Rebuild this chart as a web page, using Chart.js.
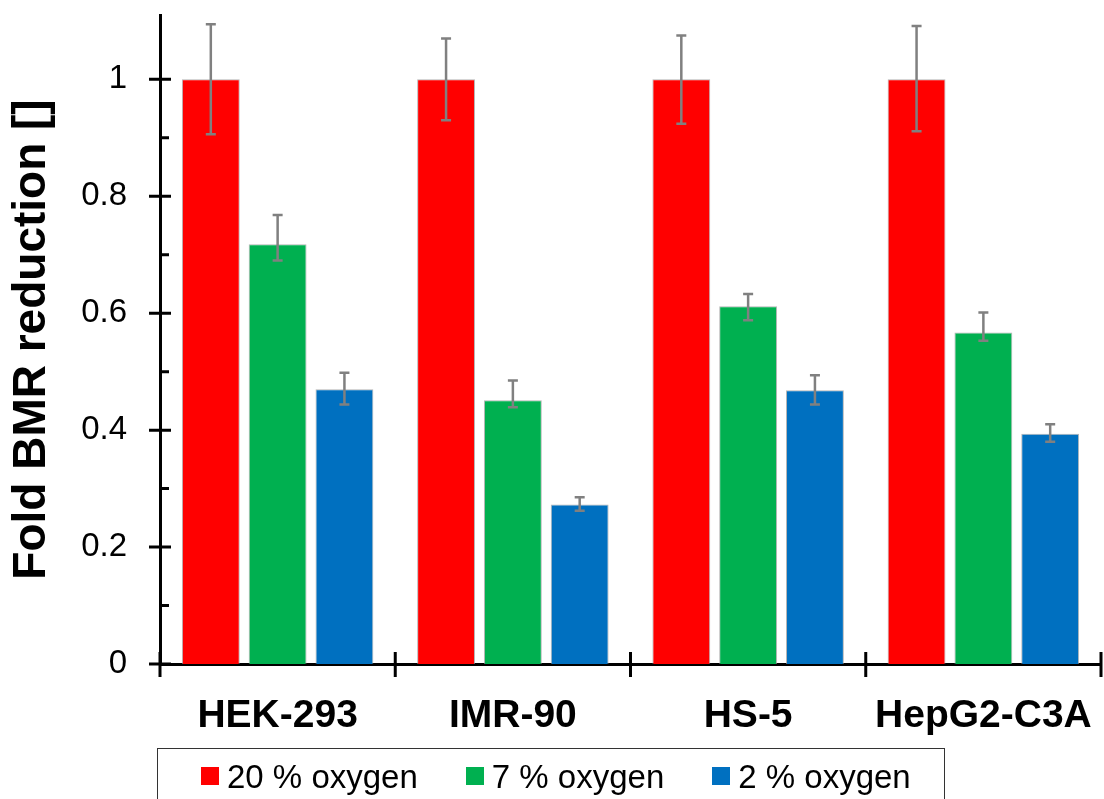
<!DOCTYPE html>
<html>
<head>
<meta charset="utf-8">
<script src="https://cdn.jsdelivr.net/npm/chart.js@4.4.0/dist/chart.umd.min.js"></script>
<style>
html, body { margin: 0; padding: 0; background: #fff; }
#wrap { position: relative; width: 1104px; height: 799px; overflow: hidden; }
#legend {
    position: absolute; left: 157px; top: 748px; width: 788px; height: 80px;
    border: 1.5px solid #333; box-sizing: border-box;
    display: flex; align-items: flex-start; padding: 10.5px 0 0 43px;
    font-family: 'Liberation Sans', Arial, sans-serif; font-size: 33px;
}
.item { display: flex; align-items: flex-start; margin-right: 48px; }
.sw { width: 18px; height: 18px; margin: 7px 8px 0 0; }
.tx { line-height: 33px; white-space: nowrap; }
</style>
</head>
<body>
<div id="wrap">
    <canvas id="chart" width="1104" height="799"></canvas>
    <div id="legend"></div>
</div>
<script>
"use strict";

var cellLines = ['HEK-293', 'IMR-90', 'HS-5', 'HepG2-C3A'];
var seriesNames = ['20 % oxygen', '7 % oxygen', '2 % oxygen'];
var seriesColors = ['#ff0000', '#00b050', '#0070c0'];

// bar heights
var oxy20 = [1.0, 1.0, 1.0, 1.0];
var oxy7 = [0.718, 0.451, 0.612, 0.567];
var oxy2 = [0.470, 0.273, 0.468, 0.394];

// error bar ends (upper / lower)
var oxy20Hi = [1.094, 1.070, 1.075, 1.091];
var oxy20Lo = [0.906, 0.930, 0.924, 0.911];
var oxy7Hi = [0.768, 0.485, 0.633, 0.601];
var oxy7Lo = [0.690, 0.439, 0.588, 0.553];
var oxy2Hi = [0.498, 0.285, 0.494, 0.410];
var oxy2Lo = [0.444, 0.262, 0.444, 0.380];

var yTickStep = 0.1;
var yMax = 1.11;

var seriesValues = [oxy20, oxy7, oxy2];
var errHi = [oxy20Hi, oxy7Hi, oxy2Hi];
var errLo = [oxy20Lo, oxy7Lo, oxy2Lo];

var errorBars = {
    id: 'errorBars',
    afterDatasetsDraw: function(chart) {
        var ctx = chart.ctx;
        var y = chart.scales.y;
        ctx.save();
        ctx.strokeStyle = '#808080';
        ctx.lineWidth = 2.5;
        chart.data.datasets.forEach(function(ds, i) {
            var meta = chart.getDatasetMeta(i);
            meta.data.forEach(function(bar, j) {
                var top = y.getPixelForValue(errHi[i][j]);
                var bottom = y.getPixelForValue(errLo[i][j]);
                ctx.beginPath();
                ctx.moveTo(bar.x, top);
                ctx.lineTo(bar.x, bottom);
                ctx.moveTo(bar.x - 5, top);
                ctx.lineTo(bar.x + 5, top);
                ctx.moveTo(bar.x - 5, bottom);
                ctx.lineTo(bar.x + 5, bottom);
                ctx.stroke();
            });
        });
        ctx.restore();
    }
};

var axisTicks = {
    id: 'axisTicks',
    afterDraw: function(chart) {
        var ctx = chart.ctx;
        var y = chart.scales.y;
        var x = chart.scales.x;
        var left = chart.chartArea.left;
        var bottom = chart.chartArea.bottom;
        ctx.save();
        ctx.strokeStyle = '#000';
        ctx.lineWidth = 3;
        ctx.beginPath();
        y.ticks.forEach(function(t) {
            var py = y.getPixelForValue(t.value);
            var major = Math.round(t.value * 10) % 2 === 0;
            ctx.moveTo(major ? left - 11 : left, py);
            ctx.lineTo(major ? left + 11 : left + 9, py);
        });
        for (var k = 0; k <= cellLines.length; k++) {
            var px = x.getPixelForDecimal(k / cellLines.length);
            ctx.moveTo(px, bottom - 12);
            ctx.lineTo(px, bottom + 13);
        }
        ctx.stroke();
        ctx.restore();
    }
};

var datasets = seriesNames.map(function(name, i) {
    return {
        label: name,
        data: seriesValues[i],
        backgroundColor: seriesColors[i],
        borderColor: 'rgba(150,150,150,0.7)',
        borderWidth: 1,
        categoryPercentage: 0.852,
        barPercentage: 0.866
    };
});

var chart = new Chart(document.getElementById('chart'), {
    type: 'bar',
    data: { labels: cellLines, datasets: datasets },
    options: {
        responsive: false,
        animation: false,
        events: [],
        layout: { padding: { top: 15, right: 3, left: 0, bottom: 0 } },
        plugins: { legend: { display: false }, tooltip: { enabled: false } },
        scales: {
            x: {
                grid: { display: false, drawTicks: false },
                border: { display: true, color: '#000', width: 3 },
                ticks: {
                    color: '#000', padding: 29, maxRotation: 0, autoSkip: false,
                    font: { family: 'Liberation Sans', size: 39, weight: 'bold', lineHeight: 1.2 }
                },
                afterFit: function(s) { s.height = 135; s.paddingLeft = 0; s.paddingRight = 0; }
            },
            y: {
                min: 0,
                max: yMax,
                grid: { display: false, drawTicks: false },
                border: { display: true, color: '#000', width: 3 },
                ticks: {
                    stepSize: yTickStep, color: '#000', padding: 33, autoSkip: false,
                    font: { family: 'Liberation Sans', size: 33 },
                    callback: function(v) {
                        var tenths = Math.round(v * 10);
                        return tenths % 2 === 0 ? String(tenths / 10) : '';
                    }
                },
                afterBuildTicks: function(s) {
                    s.ticks = s.ticks.filter(function(t) {
                        return Math.abs(t.value * 10 - Math.round(t.value * 10)) < 1e-6;
                    });
                },
                title: {
                    display: true, text: 'Fold BMR reduction []', color: '#000',
                    font: { family: 'Liberation Sans', size: 46, weight: 'bold', lineHeight: 1 },
                    padding: { top: 9, bottom: 0 }
                },
                afterFit: function(s) { s.width = 160; s.paddingTop = 0; s.paddingBottom = 0; }
            }
        }
    },
    plugins: [errorBars, axisTicks]
});

// legend
var legend = document.getElementById('legend');
seriesNames.forEach(function(name, i) {
    var item = document.createElement('div');
    item.className = 'item';
    var sw = document.createElement('span');
    sw.className = 'sw';
    sw.style.background = seriesColors[i];
    var tx = document.createElement('span');
    tx.className = 'tx';
    tx.textContent = name;
    item.appendChild(sw);
    item.appendChild(tx);
    legend.appendChild(item);
});
</script>
</body>
</html>
